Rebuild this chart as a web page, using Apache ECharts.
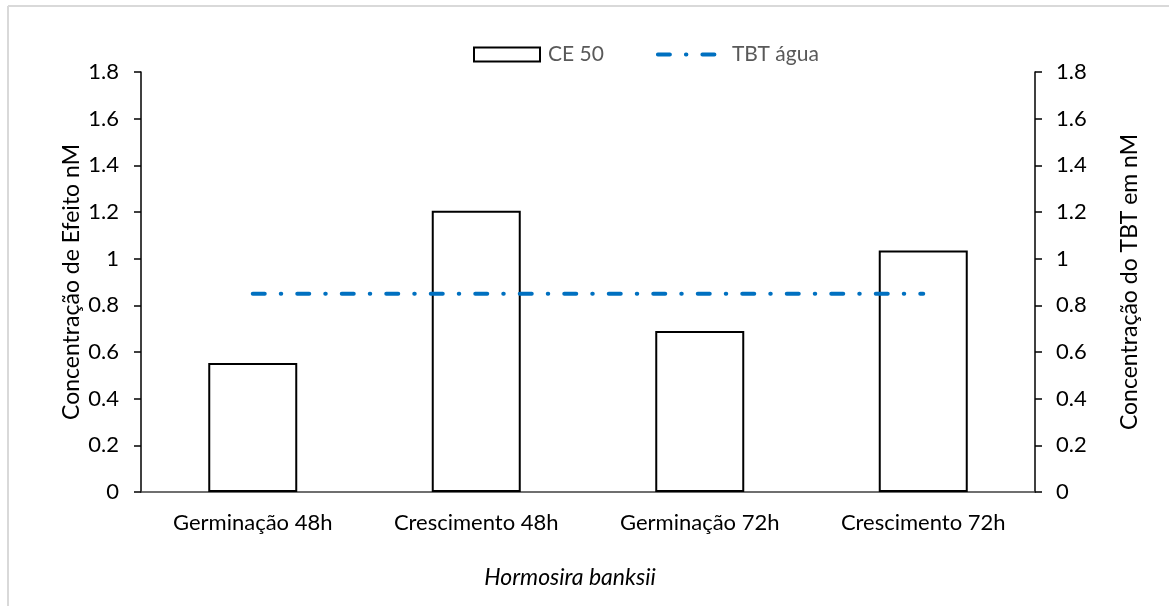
<!DOCTYPE html>
<html>
<head>
<meta charset="utf-8">
<script src="https://cdn.jsdelivr.net/npm/echarts@6/dist/echarts.min.js"></script>
<style>
html,body{margin:0;padding:0;background:#fff;}
#chart{width:1169px;height:606px;}
</style>
</head>
<body>
<div id="chart"></div>
<script>
var categories = ['Germinação 48h', 'Crescimento 48h', 'Germinação 72h', 'Crescimento 72h'];
var ce50Values = [0.553, 1.205, 0.69, 1.035];
var tbtAgua = [0.85, 0.85, 0.85, 0.85];
var yTicksMin = 0, yTicksMax = 1.8, yTicksStep = 0.2;
var legendNames = ['CE 50', 'TBT água'];
var leftAxisTitle = 'Concentração de Efeito nM';
var rightAxisTitle = 'Concentração do TBT em nM';
var xAxisTitle = 'Hormosira banksii';

var FONT = 'Lato';
var DASH = [12, 16, 0.5, 16];
var chart = echarts.init(document.getElementById('chart'));
function yAxisCfg(name, gap, margin) {
  return {
    type: 'value', min: yTicksMin, max: yTicksMax, interval: yTicksStep,
    name: name, nameLocation: 'middle', nameGap: gap, nameRotate: 90,
    nameMoveOverlap: false,
    nameTextStyle: {color: '#000', fontFamily: FONT, fontSize: 23},
    axisLine: {show: true, lineStyle: {color: '#000', width: 1.5}},
    axisTick: {show: true, inside: false, length: 7, lineStyle: {color: '#000', width: 1.5}},
    axisLabel: {color: '#000', fontFamily: FONT, fontSize: 22, margin: margin},
    splitLine: {show: false}
  };
}
chart.setOption({
  animation: false,
  backgroundColor: '#fff',
  grid: {left: 141, right: 134, top: 72, bottom: 114, containLabel: false},
  legend: {
    top: 39, left: 468, itemGap: 52, itemWidth: 66, itemHeight: 14,
    textStyle: {color: '#595959', fontFamily: FONT, fontSize: 21, padding: [0, 0, 0, 3]},
    data: [
      {name: legendNames[0], icon: 'rect', itemStyle: {color: '#fff', borderColor: '#000', borderWidth: 2}},
      {name: legendNames[1], itemStyle: {opacity: 0},
       lineStyle: {color: '#0070C0', width: 4, type: DASH, cap: 'round'}}
    ]
  },
  xAxis: {
    type: 'category', data: categories, boundaryGap: true,
    name: xAxisTitle, nameLocation: 'middle', nameGap: 74,
    nameTextStyle: {color: '#000', fontFamily: FONT, fontSize: 23, fontStyle: 'italic', padding: [0, 36, 0, 0]},
    axisLine: {show: true, lineStyle: {color: '#404040', width: 1.5}},
    axisTick: {show: false},
    axisLabel: {color: '#000', fontFamily: FONT, fontSize: 22, margin: 20}
  },
  yAxis: [yAxisCfg(leftAxisTitle, 58, 22), yAxisCfg(rightAxisTitle, 83, 21)],
  series: [
    {
      name: legendNames[0], type: 'bar', data: ce50Values, barWidth: 89, yAxisIndex: 0,
      itemStyle: {color: '#fff', borderColor: '#000', borderWidth: 2}
    },
    {
      name: legendNames[1], type: 'line', data: tbtAgua, yAxisIndex: 1,
      symbol: 'none', color: '#0070C0',
      lineStyle: {color: '#0070C0', width: 4, type: DASH, cap: 'round'}
    }
  ],
  graphic: [
    {type: 'line', shape: {x1: 8, y1: 6, x2: 1169, y2: 6}, style: {stroke: '#D9D9D9', lineWidth: 2}},
    {type: 'line', shape: {x1: 8, y1: 6, x2: 8, y2: 606}, style: {stroke: '#D9D9D9', lineWidth: 2}}
  ]
});
</script>
</body>
</html>
